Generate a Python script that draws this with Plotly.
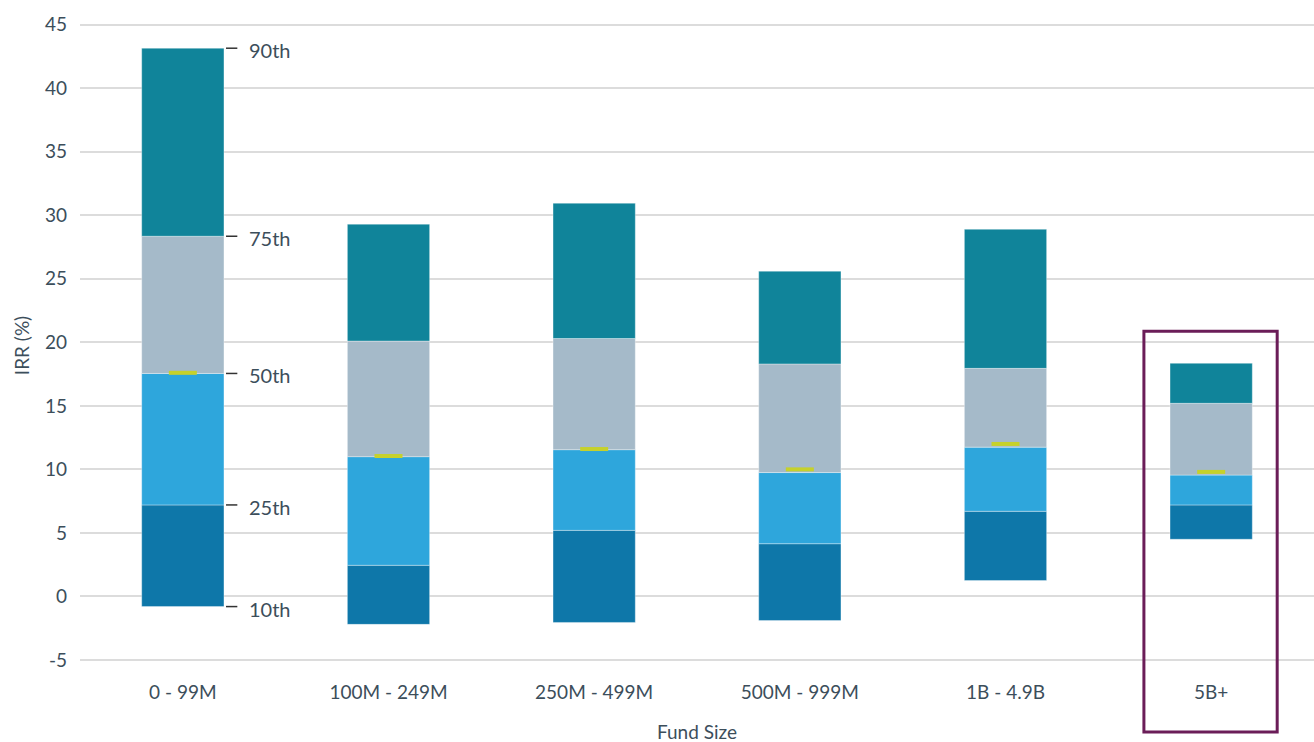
import plotly.graph_objects as go

categories = ["0 - 99M", "100M - 249M", "250M - 499M", "500M - 999M", "1B - 4.9B", "5B+"]
p10 = [-0.8, -2.2, -2.05, -1.9, 1.25, 4.5]
p25 = [7.2, 2.45, 5.2, 4.15, 6.7, 7.2]
p50 = [17.55, 11.0, 11.55, 9.75, 11.75, 9.55]
p75 = [28.35, 20.1, 20.3, 18.3, 17.95, 15.2]
p90 = [43.15, 29.3, 30.95, 25.6, 28.9, 18.35]
medians = [17.6, 11.05, 11.6, 10.0, 12.0, 9.8]
percentile_labels = ["10th", "25th", "50th", "75th", "90th"]
y_ticks = [-5, 0, 5, 10, 15, 20, 25, 30, 35, 40, 45]
y_tick_text = ["-5", "0", "5", "10", "15", "20", "25", "30", "35", "40", "45"]

colors = ["#0e77a9", "#2ea6dc", "#a5bac9", "#10849a"]
text_color = "#3c4e5b"
font_family = "Lato, 'Noto Sans', sans-serif"

fig = go.Figure()
bands = [(p10, p25), (p25, p50), (p50, p75), (p75, p90)]
for (lo, hi), c in zip(bands, colors):
    fig.add_trace(go.Bar(
        x=categories,
        base=lo,
        y=[h - l for l, h in zip(lo, hi)],
        width=0.4,
        marker=dict(color=c, line=dict(color="rgba(255,255,255,0.35)", width=1)),
        showlegend=False,
        hoverinfo="skip",
    ))

fig.add_trace(go.Scatter(
    x=categories, y=medians, mode="markers",
    marker=dict(symbol="line-ew", size=20, line=dict(color="#c6d12b", width=4)),
    showlegend=False, hoverinfo="skip",
))

# percentile labels on first bar
first_vals = [p10[0], p25[0], p50[0], p75[0], p90[0]]
for v, lab in zip(first_vals, percentile_labels):
    fig.add_shape(type="line", xref="x", yref="y", x0=0.21, x1=0.265, y0=v, y1=v,
                  line=dict(color="#333333", width=1.5))
    fig.add_annotation(x=0.31, y=v, xref="x", yref="y", yshift=-2, text=lab, showarrow=False,
                       xanchor="left", yanchor="middle",
                       font=dict(size=20, color=text_color, family=font_family))

# x axis title
fig.add_annotation(x=0.5, y=-0.078, xref="paper", yref="paper", text="Fund Size",
                   showarrow=False, xanchor="center", yanchor="middle",
                   font=dict(size=19, color=text_color, family=font_family))

# highlight box around last category
n = len(categories)
cx = (n - 1 + 0.5) / n
fig.add_shape(type="rect", xref="paper", yref="paper",
              x0=cx - 0.0545, x1=cx + 0.0535, y0=-0.0795, y1=0.5215,
              line=dict(color="#6b1d58", width=3), fillcolor="rgba(0,0,0,0)")

fig.update_layout(
    width=1314, height=742,
    margin=dict(l=80, r=0, t=12, b=63),
    plot_bgcolor="white", paper_bgcolor="white",
    barmode="overlay",
    font=dict(family=font_family, color=text_color, size=19),
    xaxis=dict(
        showgrid=False, showline=False, ticks="", automargin=False,
        tickfont=dict(size=19, color=text_color),
    ),
    yaxis=dict(
        title=dict(text="IRR (%)", font=dict(size=19, color=text_color), standoff=10),
        range=[-6.5, 46], tickvals=y_ticks, ticktext=y_tick_text,
        showgrid=True, gridcolor="#dcdcdc", gridwidth=2,
        zeroline=True, zerolinecolor="#dcdcdc", zerolinewidth=2,
        showline=False, ticks="", ticklabelstandoff=12, automargin=False,
        tickfont=dict(size=19, color=text_color),
    ),
)

fig.write_html("out.html", config={"displayModeBar": False},
               post_script="document.body.style.margin='0';")
